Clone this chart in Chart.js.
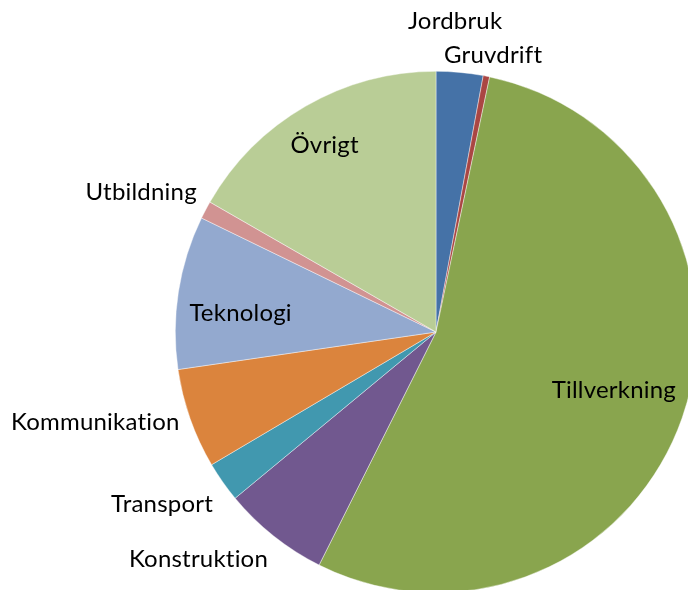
<!DOCTYPE html>
<html>
<head>
<meta charset="utf-8">
<script src="https://cdn.jsdelivr.net/npm/chart.js@4/dist/chart.umd.min.js"></script>
<style>
  html, body { margin: 0; padding: 0; background: #fff; }
  #wrap { width: 688px; height: 590px; overflow: hidden; position: relative; }
  canvas { display: block; }
</style>
</head>
<body>
<div id="wrap"><canvas id="c" width="700" height="600"></canvas></div>
<script>
// Data
const categories = ["Jordbruk", "Gruvdrift", "Tillverkning", "Konstruktion", "Transport", "Kommunikation", "Teknologi", "Utbildning", "Övrigt"];
const shares = [2.9, 0.4, 54.1, 6.6, 2.5, 6.2, 9.5, 1.1, 16.7];
const colors = ["#4572A7", "#AA4643", "#89A54E", "#71588F", "#4198AF", "#DB843D", "#93A9CF", "#D19392", "#B9CD96"];

// Label placement: radial distance (x radius) and angle shift (deg) from slice middle
const labelDist = [1.195, 1.084, 0.718, 1.262, 1.242, 1.352, 0.753, 1.252, 0.833];
const labelShift = [-1.7, 0.5, -1.1, 7.7, 2.9, 4.6, -3.3, -2.5, -0.8];

const labelPlugin = {
  id: 'sliceLabels',
  afterDatasetsDraw(chart) {
    const ctx = chart.ctx;
    const meta = chart.getDatasetMeta(0);
    ctx.save();
    ctx.font = '24px Lato, "Open Sans", sans-serif';
    if ('letterSpacing' in ctx) ctx.letterSpacing = '0.2px';
    ctx.fillStyle = '#000';
    ctx.textAlign = 'center';
    ctx.textBaseline = 'middle';
    meta.data.forEach((arc, i) => {
      const p = arc.getProps(['x', 'y', 'startAngle', 'endAngle', 'outerRadius'], true);
      const a = (p.startAngle + p.endAngle) / 2 + labelShift[i] * Math.PI / 180;
      const d = p.outerRadius * labelDist[i];
      ctx.fillText(chart.data.labels[i], p.x + Math.cos(a) * d, p.y + Math.sin(a) * d);
    });
    ctx.restore();
  }
};

new Chart(document.getElementById('c'), {
  type: 'pie',
  data: {
    labels: categories,
    datasets: [{
      data: shares,
      backgroundColor: colors,
      borderColor: 'rgba(255,255,255,0.7)',
      borderWidth: 0.6
    }]
  },
  options: {
    responsive: false,
    animation: false,
    devicePixelRatio: 1,
    layout: { padding: { left: 175, top: 71, right: 3, bottom: 7 } },
    plugins: {
      legend: { display: false },
      tooltip: { enabled: false }
    }
  },
  plugins: [labelPlugin]
});
</script>
</body>
</html>
